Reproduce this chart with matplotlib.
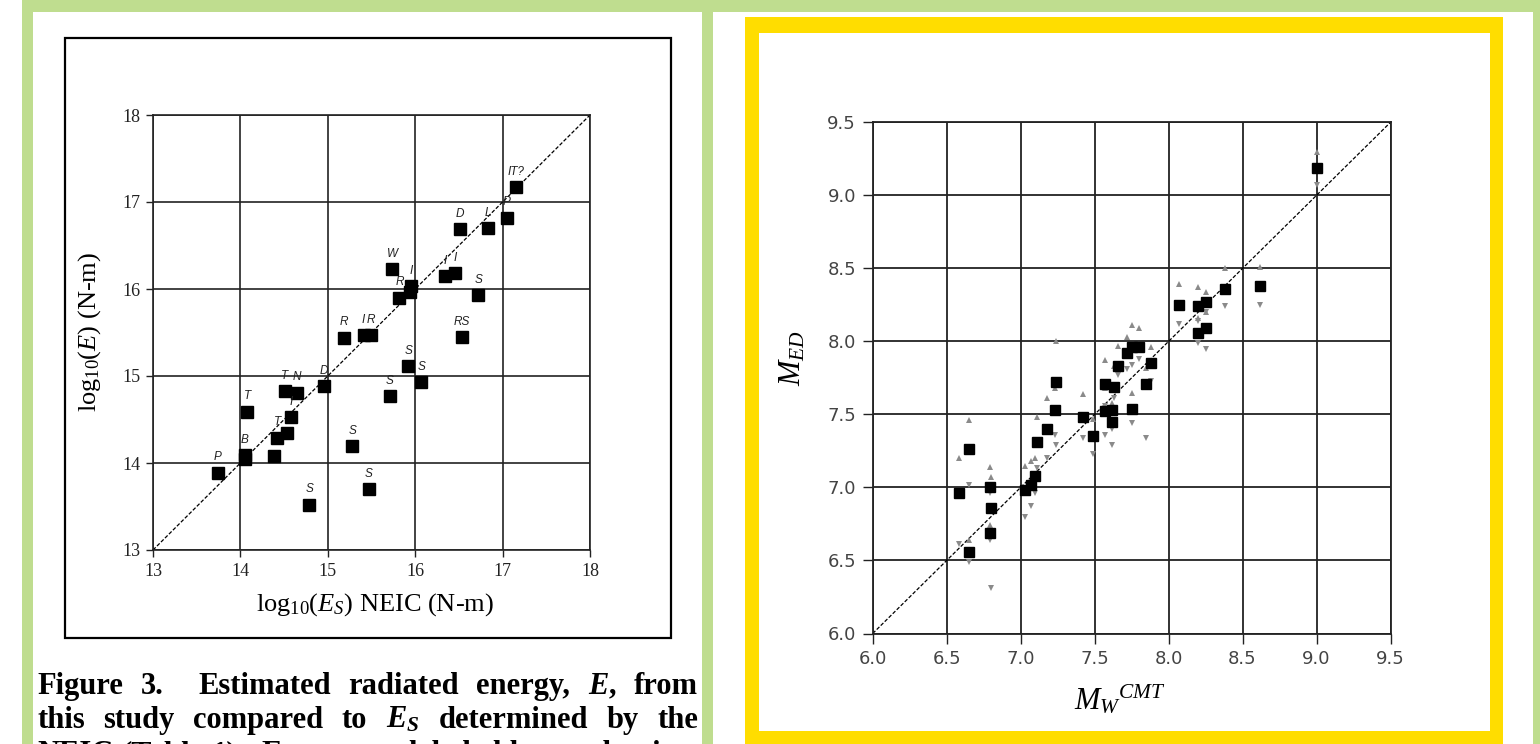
import re
import matplotlib
matplotlib.use("Agg")
import matplotlib.pyplot as plt
from matplotlib.patches import Rectangle

plt.rcParams['mathtext.fontset'] = 'custom'
plt.rcParams['mathtext.rm'] = 'Liberation Serif'
plt.rcParams['mathtext.it'] = 'Liberation Serif:italic'
plt.rcParams['mathtext.bf'] = 'Liberation Serif:bold'
plt.rcParams['mathtext.bfit'] = 'Liberation Serif:italic:bold'

# left panel: log10 radiated energy, NEIC vs this study
es_neic = [17.15, 17.05, 16.83, 16.51, 15.74, 15.95, 15.94, 15.82, 16.34, 16.46,
           16.72, 16.53, 15.18, 15.41, 15.49, 15.92, 16.07, 15.71, 14.96, 14.51,
           14.65, 14.08, 14.58, 14.53, 14.42, 14.38, 14.05, 14.05, 13.74, 15.28,
           15.47, 14.79]
e_study = [17.17, 16.82, 16.70, 16.69, 16.23, 16.03, 15.97, 15.90, 16.15, 16.18,
           15.93, 15.45, 15.44, 15.47, 15.47, 15.11, 14.93, 14.77, 14.88, 14.83,
           14.81, 14.59, 14.53, 14.35, 14.29, 14.08, 14.09, 14.05, 13.89, 14.19,
           13.70, 13.52]
mech = ["IT?", "P", "L", "D", "W", "I", "", "R", "I", "I",
        "S", "RS", "R", "I", "R", "S", "S", "S", "D", "T",
        "N", "T", "I", "", "T", "", "B", "", "P", "S",
        "S", "S"]
left_ticks = [13, 14, 15, 16, 17, 18]

# right panel: M_ED vs Mw CMT, with upper / lower estimates
mw_cmt = [6.58, 6.65, 6.65, 6.79, 6.80, 6.79, 7.03, 7.07, 7.10, 7.11, 7.18, 7.23,
          7.24, 7.42, 7.49, 7.57, 7.57, 7.62, 7.62, 7.63, 7.66, 7.72, 7.75, 7.80,
          7.75, 7.85, 7.88, 8.20, 8.25, 8.07, 8.20, 8.25, 8.38, 8.62, 9.00]
m_ed = [6.96, 7.26, 6.56, 7.00, 6.86, 6.69, 6.98, 7.02, 7.08, 7.31, 7.40, 7.53,
        7.72, 7.48, 7.35, 7.52, 7.71, 7.53, 7.45, 7.69, 7.83, 7.92, 7.96, 7.96,
        7.54, 7.71, 7.85, 8.06, 8.09, 8.25, 8.24, 8.27, 8.36, 8.38, 9.19]
m_ed_hi = [7.20, 7.46, 6.64, 7.14, 7.07, 6.74, 7.15, 7.18, 7.20, 7.48, 7.61, 7.68,
           8.00, 7.64, 7.47, 7.68, 7.87, 7.70, 7.58, 7.83, 7.97, 8.03, 8.11, 8.09,
           7.65, 7.82, 7.96, 8.16, 8.20, 8.39, 8.37, 8.34, 8.50, 8.51, 9.30]
m_ed_lo = [6.61, 7.02, 6.49, 6.96, 6.31, 6.64, 6.80, 6.87, 6.96, 7.13, 7.20, 7.36,
           7.29, 7.34, 7.23, 7.36, 7.56, 7.40, 7.29, 7.61, 7.77, 7.81, 7.84, 7.88,
           7.44, 7.34, 7.73, 7.99, 7.95, 8.12, 8.14, 8.20, 8.24, 8.25, 9.07]
right_ticks = [6.0, 6.5, 7.0, 7.5, 8.0, 8.5, 9.0, 9.5]

caption = [
    "Figure 3.  Estimated radiated energy, $\\mathbfit{E}$, from",
    "this study compared to $\\mathbfit{E_S}$ determined by the",
    "NEIC (Table 1).  Events are labeled by mechanism",
]

GREEN = "#bfdd8f"
YELLOW = "#ffdd00"

fig = plt.figure(figsize=(15.4, 7.44), dpi=100)

# page decorations in pixel coordinates
bg = fig.add_axes([0, 0, 1, 1], zorder=-1)
bg.set_xlim(0, 1540)
bg.set_ylim(744, 0)
bg.axis("off")
for x, y, w, h, c in [(22, 0, 1518, 12, GREEN), (22, 0, 11, 744, GREEN),
                      (702, 0, 11, 744, GREEN), (1533, 0, 7, 744, GREEN),
                      (745, 17, 758, 16, YELLOW), (745, 17, 14, 727, YELLOW),
                      (1490, 17, 13, 727, YELLOW), (745, 731, 758, 13, YELLOW)]:
    bg.add_patch(Rectangle((x, y), w, h, color=c, lw=0))
bg.add_patch(Rectangle((65, 38), 606, 600, fill=False, ec="black", lw=1.6))

# caption, justified word by word
r = fig.canvas.get_renderer()
for i, line in enumerate(caption):
    tokens = re.split(r"( +)", line)
    words = tokens[0::2]
    spaces = [len(s) for s in tokens[1::2]]
    texts = [bg.text(0, 694 + 34 * i, w, fontsize=22, fontweight="bold",
                     family="Liberation Serif", va="baseline") for w in words]
    widths = [t.get_window_extent(renderer=r).width for t in texts]
    g = (698 - 37 - sum(widths)) / sum(spaces)
    x = 37
    for k, t in enumerate(texts):
        t.set_x(x)
        x += widths[k] + (g * spaces[k] if k < len(spaces) else 0)

# left chart
ax1 = fig.add_axes([153 / 1540, 194 / 744, 437 / 1540, 435 / 744])
ax1.plot([13, 18], [13, 18], color="black", lw=0.9, dashes=(3, 1.5), zorder=2)
ax1.plot(es_neic, e_study, "s", color="black", ms=8.4, zorder=3)
for x, y, lab in zip(es_neic, e_study, mech):
    if lab:
        ax1.annotate(lab, (x, y), xytext=(0, 11), textcoords="offset points",
                     ha="center", va="center", fontsize=8.5, style="italic",
                     family="Liberation Sans", color="#222222", zorder=4)
ax1.set_xlim(13, 18)
ax1.set_ylim(13, 18)
ax1.set_xticks(left_ticks)
ax1.set_yticks(left_ticks)
ax1.grid(True, color="#222222", lw=1.2)
ax1.set_axisbelow(True)
for s in ax1.spines.values():
    s.set_color("#222222")
    s.set_linewidth(1.2)
ax1.tick_params(direction="out", length=5, width=1, pad=4, labelsize=13,
                colors="#222222")
for lb in ax1.get_xticklabels() + ax1.get_yticklabels():
    lb.set_family("Liberation Serif")
ax1.set_xlabel("log$_{10}$($E_S$) NEIC (N-m)", fontsize=19, family="Liberation Serif")
ax1.set_ylabel("log$_{10}$($E$) (N-m)", fontsize=19, family="Liberation Serif")
ax1.xaxis.set_label_coords(0.509, -0.095)
ax1.yaxis.set_label_coords(-0.115, 0.5)

# right chart
ax2 = fig.add_axes([872.7 / 1540, 110.5 / 744, 517.8 / 1540, 511.2 / 744])
ax2.plot([6, 9.5], [6, 9.5], color="black", lw=0.9, dashes=(3, 1.5), zorder=2)
ax2.plot(mw_cmt, m_ed_hi, "^", color="#8a8a8a", ms=5, mew=0, zorder=3)
ax2.plot(mw_cmt, m_ed_lo, "v", color="#8a8a8a", ms=5, mew=0, zorder=3)
ax2.plot(mw_cmt, m_ed, "s", color="black", ms=7.9, zorder=4)
ax2.set_xlim(6, 9.5)
ax2.set_ylim(6, 9.5)
ax2.set_xticks(right_ticks)
ax2.set_yticks(right_ticks)
ax2.set_xticklabels([f"{t:.1f}" for t in right_ticks])
ax2.set_yticklabels([f"{t:.1f}" for t in right_ticks])
ax2.grid(True, color="#222222", lw=1.3)
ax2.set_axisbelow(True)
for s in ax2.spines.values():
    s.set_color("#222222")
    s.set_linewidth(1.3)
ax2.tick_params(direction="out", length=7, width=1, pad=5, labelsize=13,
                colors="#222222", labelcolor="#444444")
ax2.set_xlabel("$M_W{}^{CMT}$", fontsize=22)
ax2.set_ylabel("$M_{ED}$", fontsize=22)
ax2.xaxis.set_label_coords(0.478, -0.095)
ax2.yaxis.set_label_coords(-0.127, 0.539)

fig.savefig("out.png", dpi=100)
